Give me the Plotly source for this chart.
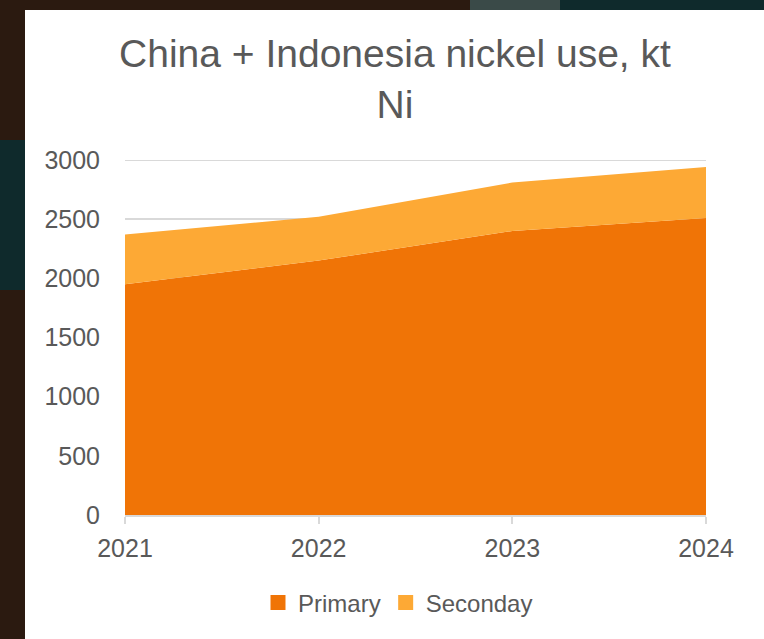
import plotly.graph_objects as go

years = [2021, 2022, 2023, 2024]
primary = [1950, 2150, 2400, 2510]
secondary = [420, 370, 410, 430]
y_ticks = [0, 500, 1000, 1500, 2000, 2500, 3000]

C_PRIMARY = "#F07406"
C_SECOND = "#FDA935"
TXT = "#595959"
GRID = "#d9d9d9"
FONT = "Liberation Sans, Arial, sans-serif"

fig = go.Figure()
fig.add_trace(go.Scatter(x=years, y=primary, name="Primary", stackgroup="one",
                         mode="none", fillcolor=C_PRIMARY, showlegend=False))
fig.add_trace(go.Scatter(x=years, y=secondary, name="Seconday", stackgroup="one",
                         mode="none", fillcolor=C_SECOND, showlegend=False))
# legend entries with square swatches
for nm, col in [("Primary", C_PRIMARY), ("Seconday", C_SECOND)]:
    fig.add_trace(go.Bar(x=[None], y=[None], name=nm,
                         marker=dict(color=col, line=dict(color=col, width=3))))

W, H = 764, 639
L, R, T, B = 125, 58, 160, 124
pw, ph = W - L - R, H - T - B

def px_x(px):
    return (px - L) / pw

def px_y(py):
    return (H - B - py) / ph

# top gridline (plotly drops the one on the plot edge)
fig.add_shape(type="line", xref="paper", yref="y", x0=0, x1=1, y0=y_ticks[-1], y1=y_ticks[-1],
              line=dict(color=GRID, width=2), layer="below")

# dark photographic backdrop strips around the white panel
strips = [
    (0, 25, 0, 140, "#2b1a10"),
    (0, 25, 140, 290, "#0f2a2c"),
    (0, 25, 290, 639, "#2b1a10"),
    (0, 470, 0, 10, "#2b1a10"),
    (470, 560, 0, 10, "#3a4a48"),
    (560, 764, 0, 10, "#0f2a2c"),
]
for x0, x1, y0, y1, col in strips:
    fig.add_shape(type="rect", xref="paper", yref="paper", layer="above",
                  x0=px_x(x0), x1=px_x(x1), y0=px_y(y1), y1=px_y(y0),
                  fillcolor=col, line_width=0)

fig.update_layout(
    width=W, height=H,
    margin=dict(l=L, r=R, t=T, b=B),
    paper_bgcolor="white",
    plot_bgcolor="white",
    font=dict(family=FONT, color=TXT, size=24),
    title=dict(text="China + Indonesia nickel use, kt<br>Ni", x=0.517, xanchor="center",
               y=1 - 67 / H, yanchor="middle", font=dict(size=39, color=TXT, family=FONT)),
    showlegend=True,
    legend=dict(orientation="h", x=px_x(398), xanchor="center", y=px_y(603), yanchor="middle",
                traceorder="normal", font=dict(size=24, color=TXT), itemwidth=30,
                bgcolor="rgba(0,0,0,0)"),
    xaxis=dict(range=[2021, 2024], tickvals=years, ticktext=[str(y) for y in years],
               showgrid=False, showline=True, linecolor=GRID, linewidth=1.5,
               ticks="outside", ticklen=7, tickcolor=GRID, tickwidth=1.5, zeroline=False,
               ticklabelstandoff=3, tickfont=dict(size=25, color=TXT)),
    yaxis=dict(range=[0, 3000], tickvals=y_ticks, showgrid=True, gridcolor=GRID,
               gridwidth=2, zeroline=False, showline=False, ticklabelstandoff=24,
               tickfont=dict(size=25, color=TXT)),
)

fig.write_html("out.html")
